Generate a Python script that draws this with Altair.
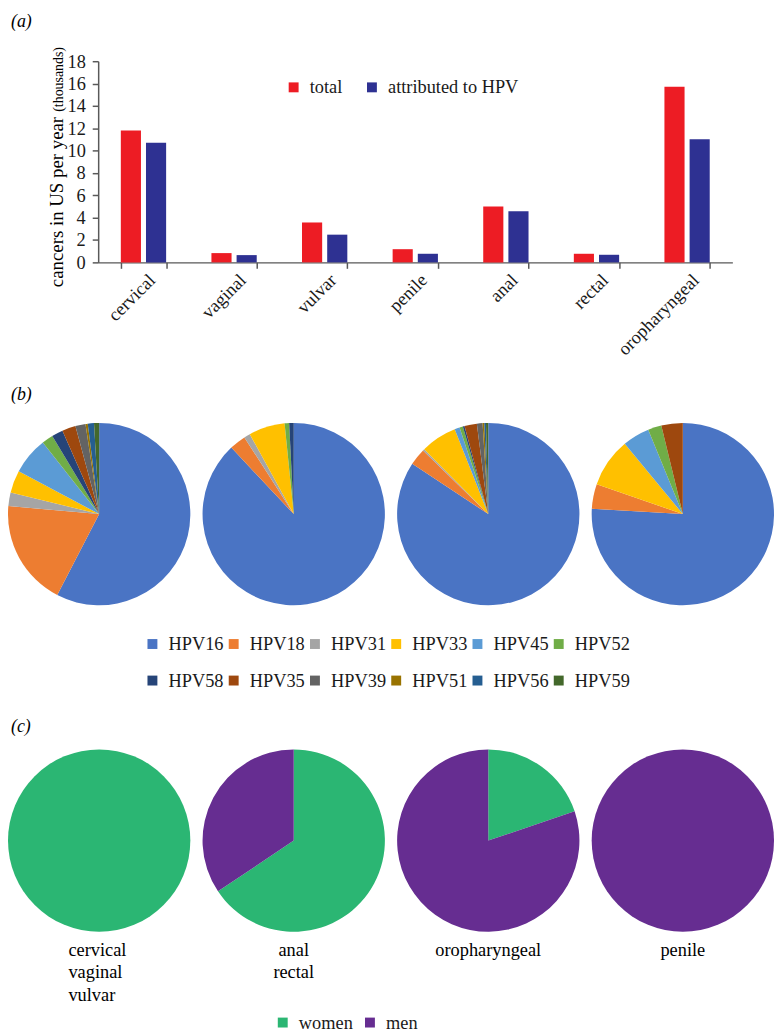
import altair as alt
import pandas as pd

FONT = "Liberation Serif"

# ---------------- (a) bar chart data ----------------
categories = ["cervical", "vaginal", "vulvar", "penile", "anal", "rectal", "oropharyngeal"]
total_cases = [11.8, 0.83, 3.57, 1.18, 4.99, 0.77, 15.72]
hpv_cases = [10.7, 0.65, 2.48, 0.77, 4.58, 0.68, 11.02]
bar_series = ["total", "attributed to HPV"]
bar_colors = ["#ED1C24", "#2E3192"]
y_ticks = [0, 2, 4, 6, 8, 10, 12, 14, 16, 18]

# ---------------- (b) HPV type pies ----------------
hpv_types = ["HPV16", "HPV18", "HPV31", "HPV33", "HPV45", "HPV52",
             "HPV58", "HPV35", "HPV39", "HPV51", "HPV56", "HPV59"]
hpv_colors = ["#4A74C4", "#ED7D31", "#A5A5A5", "#FFC000", "#5B9BD5", "#70AD47",
              "#264478", "#9E480E", "#636363", "#997300", "#255E91", "#43682B"]
pie_b1 = [57.6, 18.8, 2.4, 4.0, 6.6, 2.0, 2.0, 2.4, 1.8, 0.4, 1.1, 0.9]
pie_b2 = [88.0, 2.9, 1.1, 6.4, 0.0, 0.8, 0.8, 0.0, 0.0, 0.0, 0.0, 0.0]
pie_b3 = [84.3, 3.0, 0.3, 6.4, 0.9, 0.6, 0.3, 2.2, 1.0, 0.3, 0.3, 0.4]
pie_b4 = [76.0, 4.4, 0.0, 8.7, 4.8, 2.4, 0.0, 3.8, 0.0, 0.0, 0.0, 0.0]

# ---------------- (c) sex pies ----------------
sex_groups = ["cervical\nvaginal\nvulvar", "anal\nrectal", "oropharyngeal", "penile"]
women_share = [100.0, 65.6, 19.8, 0.0]
men_share = [0.0, 34.4, 80.2, 100.0]
sexes = ["women", "men"]
sex_colors = ["#2BB673", "#662D91"]

# ---------------- tables ----------------
df_a = pd.DataFrame(
    [{"category": c, "series": bar_series[0], "value": t} for c, t in zip(categories, total_cases)]
    + [{"category": c, "series": bar_series[1], "value": h} for c, h in zip(categories, hpv_cases)]
)

rows_b = []
for p, vals in enumerate([pie_b1, pie_b2, pie_b3, pie_b4]):
    for i, (t, v) in enumerate(zip(hpv_types, vals)):
        rows_b.append({"g": p, "type": t, "idx": i, "value": v})
df_b = pd.DataFrame(rows_b)

rows_c = []
for p in range(len(sex_groups)):
    rows_c.append({"g": p, "sex": sexes[0], "idx": 0, "value": women_share[p]})
    rows_c.append({"g": p, "sex": sexes[1], "idx": 1, "value": men_share[p]})
df_c = pd.DataFrame(rows_c)
df_c_lab = pd.DataFrame({"g": list(range(len(sex_groups))), "label": sex_groups})

W = 640
PIE_R = 92
pie_x_scale = alt.Scale(type="point", range=[1, 590], padding=0)


def tag(text, x, y, baseline="middle"):
    return alt.Chart(pd.DataFrame({"t": [text]})).mark_text(
        align="left", baseline=baseline, fontStyle="italic", fontSize=18, font=FONT, color="black"
    ).encode(x=alt.value(x), y=alt.value(y), text="t:N")


def legend(**kw):
    return alt.Legend(title=None, symbolType="square", symbolSize=100, symbolStrokeWidth=0,
                      labelOffset=7, padding=0, labelFont=FONT, labelFontSize=18.5,
                      labelColor="#1a1a1a", orient="none", direction="horizontal", **kw)


# ---------------- (a) ----------------
bars = alt.Chart(df_a).mark_bar().encode(
    x=alt.X("category:N", sort=categories,
            scale=alt.Scale(paddingInner=0.5, paddingOuter=0.25),
            axis=alt.Axis(title=None, labelAngle=315, labelAlign="right", labelBaseline="top",
                          labelOffset=2, labelPadding=2, tickBand="extent", tickSize=6,
                          labelFont=FONT, labelFontSize=18.5, labelColor="#1a1a1a")),
    xOffset=alt.XOffset("series:N", sort=bar_series, scale=alt.Scale(paddingInner=0.2)),
    y=alt.Y("value:Q", scale=alt.Scale(domain=[0, 18]),
            axis=alt.Axis(values=y_ticks, title=None, tickSize=6, labelPadding=7, grid=False,
                          labelFont=FONT, labelFontSize=18.5, labelColor="#1a1a1a")),
    color=alt.Color("series:N", sort=bar_series,
                    scale=alt.Scale(domain=bar_series, range=bar_colors),
                    legend=legend(legendX=188, legendY=17, columnPadding=20)),
)

ytitle_main = alt.Chart(pd.DataFrame({"t": ["cancers in US per year"]})).mark_text(
    angle=270, align="left", baseline="alphabetic", fontSize=19, font=FONT, color="black"
).encode(x=alt.value(-35.6), y=alt.value(228), text="t:N")
ytitle_unit = alt.Chart(pd.DataFrame({"t": ["(thousands)"]})).mark_text(
    angle=270, align="left", baseline="alphabetic", fontSize=14, font=FONT, color="black"
).encode(x=alt.value(-35.6), y=alt.value(51), text="t:N")

chart_a = alt.layer(bars, ytitle_main, ytitle_unit, tag("(a)", -88, -49, "top")).properties(width=W, height=203)

# ---------------- (b) ----------------
arcs_b = alt.Chart(df_b).transform_stack(
    stack="value", groupby=["g"], as_=["t0", "t1"], offset="normalize",
    sort=[alt.SortField("idx", order="ascending")]
).mark_arc(radius=PIE_R).encode(
    x=alt.X("g:O", scale=pie_x_scale, axis=None),
    theta=alt.Theta("t0:Q", scale=alt.Scale(domain=[0, 1])),
    theta2="t1:Q",
    color=alt.Color("type:N", scale=alt.Scale(domain=hpv_types, range=hpv_colors),
                    legend=legend(legendX=45.5, legendY=214.75, columns=6,
                                  columnPadding=-2, rowPadding=18)),
)
chart_b = alt.layer(arcs_b, tag("(b)", -88, -27)).properties(width=W, height=186)

# ---------------- (c) ----------------
arcs_c = alt.Chart(df_c).transform_stack(
    stack="value", groupby=["g"], as_=["t0", "t1"], offset="normalize",
    sort=[alt.SortField("idx", order="ascending")]
).mark_arc(radius=PIE_R).encode(
    x=alt.X("g:O", scale=pie_x_scale, axis=None),
    theta=alt.Theta("t0:Q", scale=alt.Scale(domain=[0, 1])),
    theta2="t1:Q",
    color=alt.Color("sex:N", scale=alt.Scale(domain=sexes, range=sex_colors),
                    legend=legend(legendX=177, legendY=249.75, columnPadding=8)),
)
lab_first = alt.Chart(df_c_lab).transform_filter("datum.g == 0").mark_text(
    align="left", baseline="alphabetic", lineBreak="\n", lineHeight=22.5, dx=-31,
    fontSize=18.5, font=FONT, color="black"
).encode(x=alt.X("g:O", scale=pie_x_scale, axis=None), y=alt.value(192), text="label:N")
lab_rest = alt.Chart(df_c_lab).transform_filter("datum.g > 0").mark_text(
    align="center", baseline="alphabetic", lineBreak="\n", lineHeight=22.5,
    fontSize=18.5, font=FONT, color="black"
).encode(x=alt.X("g:O", scale=pie_x_scale, axis=None), y=alt.value(192), text="label:N")

chart_c = alt.layer(arcs_c, lab_first, lab_rest, tag("(c)", -88, -39)).properties(width=W, height=151)

chart = alt.vconcat(chart_a, chart_b, chart_c, spacing=161, bounds="flush").resolve_scale(
    color="independent", theta="independent", x="independent", y="independent"
).properties(padding=0).configure_view(stroke=None).configure_axis(
    labelFont=FONT, labelColor="#1a1a1a", domainColor="#595959", tickColor="#595959",
    domainWidth=1.5, tickWidth=1.5
).configure_legend(labelFont=FONT, labelColor="#1a1a1a").configure_text(font=FONT)

chart.save("out.html", embed_options={"renderer": "svg", "actions": False})
